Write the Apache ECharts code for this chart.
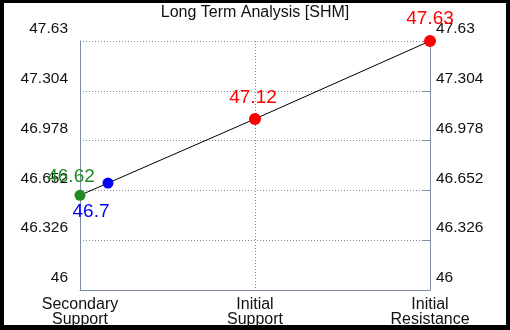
<!DOCTYPE html>
<html>
<head>
<meta charset="utf-8">
<script src="https://cdn.jsdelivr.net/npm/echarts@6/dist/echarts.min.js"></script>
<style>
    html, body { margin: 0; padding: 0; background: #000; }
    #frame { position: absolute; left: 4px; top: 3px; width: 502px; height: 322px; background: #fff; }
    #chart { position: absolute; left: 0; top: 0; width: 510px; height: 330px; }
</style>
</head>
<body>
<div id="frame"></div>
<div id="chart"></div>
<script>
    var titleText = 'Long Term Analysis [SHM]';
    var categories = ['Secondary\nSupport', 'Initial\nSupport', 'Initial\nResistance'];
    var yTicks = [46, 46.326, 46.652, 46.978, 47.304, 47.63];
    // x position (in category units), value, colour of each point
    var pointX = [0, 0.16, 1, 2];
    var pointY = [46.62, 46.7, 47.12, 47.63];
    var pointColors = ['#228b22', '#0000ff', '#ff0000', '#ff0000'];

    var base = yTicks[0];
    var step = +(yTicks[1] - yTicks[0]).toFixed(3);
    var axisColor = '#7f8ca6';
    var font = 'Liberation Sans, Arial, sans-serif';

    // label placement for each point
    var labelStyles = [
        { position: 'top', distance: 4, offset: [-9, 0] },
        { position: 'bottom', distance: 4, offset: [-17, 10] },
        { position: 'top', distance: 6, offset: [-2, 0] },
        { position: 'top', distance: 7, offset: [0, 0] }
    ];
    var sizes = [11, 11, 12, 12];

    var seriesData = pointY.map(function(v, i) {
        return {
            value: [pointX[i], +(v - base).toFixed(3)],
            symbolSize: sizes[i],
            itemStyle: { color: pointColors[i] },
            label: {
                show: true,
                position: labelStyles[i].position,
                distance: labelStyles[i].distance,
                offset: labelStyles[i].offset,
                color: pointColors[i],
                fontSize: 19,
                fontFamily: font,
                formatter: function() { return String(v); }
            }
        };
    });

    function yAxisFor(pos) {
        return {
            type: 'value',
            position: pos,
            min: 0,
            max: +(yTicks[yTicks.length - 1] - base).toFixed(3),
            interval: step,
            axisLine: { show: true, lineStyle: { color: axisColor, width: 1 } },
            axisTick: { show: pos === 'right', inside: true, length: 8, lineStyle: { color: axisColor } },
            splitLine: { show: pos === 'left', lineStyle: { color: axisColor, type: [1, 2], width: 1 } },
            axisLabel: {
                color: '#111',
                fontSize: 15.5,
                fontFamily: font,
                margin: pos === 'left' ? 12 : 6,
                verticalAlign: 'bottom',
                padding: [0, 0, 4, 0],
                formatter: function(val) {
                    var idx = Math.round(val / step);
                    return yTicks[idx] !== undefined ? String(yTicks[idx]) : '';
                }
            }
        };
    }

    var chart = echarts.init(document.getElementById('chart'), null, { renderer: 'canvas' });
    chart.setOption({
        animation: false,
        backgroundColor: 'transparent',
        title: {
            text: titleText,
            left: 'center',
            top: 0,
            textStyle: { fontSize: 16, fontWeight: 'normal', color: '#111', fontFamily: font }
        },
        grid: { left: 80, right: 80, top: 41, bottom: 40 },
        xAxis: {
            type: 'value',
            min: 0,
            max: categories.length - 1,
            interval: 1,
            axisLine: { show: true, onZero: false, lineStyle: { color: axisColor, width: 1 } },
            axisTick: { show: false },
            splitLine: { show: true, lineStyle: { color: axisColor, type: [1, 2], width: 1 } },
            axisLabel: {
                color: '#111',
                fontSize: 16,
                lineHeight: 15,
                margin: 7,
                fontFamily: font,
                formatter: function(val) { return categories[Math.round(val)] || ''; }
            }
        },
        yAxis: [yAxisFor('left'), yAxisFor('right')],
        series: [{
            type: 'line',
            symbol: 'circle',
            lineStyle: { color: '#000', width: 1 },
            data: seriesData,
            z: 5
        }]
    });
</script>
</body>
</html>
